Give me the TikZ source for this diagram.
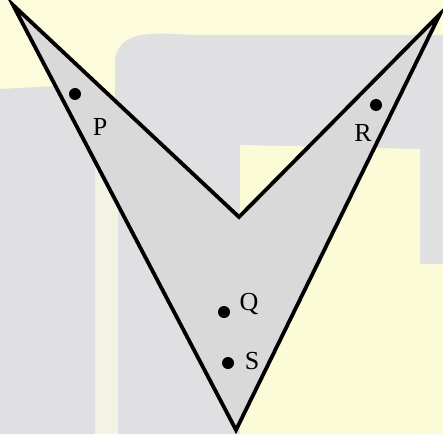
\documentclass[tikz,border=0pt]{standalone}
\usepackage{fontspec}
\setmainfont{Liberation Serif}
\definecolor{bgyellow}{HTML}{FCFCDC}
\definecolor{bggray}{HTML}{E0DFE1}
\definecolor{bgstrip}{HTML}{F3F3E3}
\definecolor{bglight}{HTML}{FBFBD7}
\definecolor{shapefill}{HTML}{D9D9D9}
\tikzset{
  dotmark/.style={circle, fill=black, inner sep=0pt, minimum size=12pt},
  lbl/.style={font=\fontsize{26}{26}\selectfont, inner sep=0pt},
}
\begin{document}
\begin{tikzpicture}[x=1pt,y=1pt]
\useasboundingbox (0,0) rectangle (443,434);
% background
\fill[bgyellow] (0,0) rectangle (443,434);
\fill[bggray] (0,0) -- (0,345) -- (95,350) -- (95,0) -- cycle;
\fill[bggray] (115,0) -- (115,375) to[out=80,in=180] (200,399) -- (443,399) -- (443,0) -- cycle;
\fill[bgstrip] (95,0) rectangle (118,330);
\fill[bglight] (240,0) -- (240,289) -- (420,285) -- (420,0) -- cycle;
\fill[bglight] (420,0) rectangle (443,170);
% shape
\coordinate (A) at (13,429);
\coordinate (N) at (239,217);
\coordinate (B) at (440,420);
\coordinate (C) at (236,4);
\draw[line width=3.8pt, fill=shapefill, line join=miter, miter limit=20] (A) -- (N) -- (B) -- (C) -- cycle;
% dots
\node[dotmark] (p) at (75,340) {};
\node[dotmark] (r) at (376,329) {};
\node[dotmark] (q) at (224,122) {};
\node[dotmark] (s) at (228,71) {};
% labels
\node[lbl] (pl) at (100,307) {P};
\node[lbl] (rl) at (363,301) {R};
\node[lbl] (ql) at (249,130) {Q};
\node[lbl] (sl) at (252,73) {S};
\end{tikzpicture}
\end{document}
